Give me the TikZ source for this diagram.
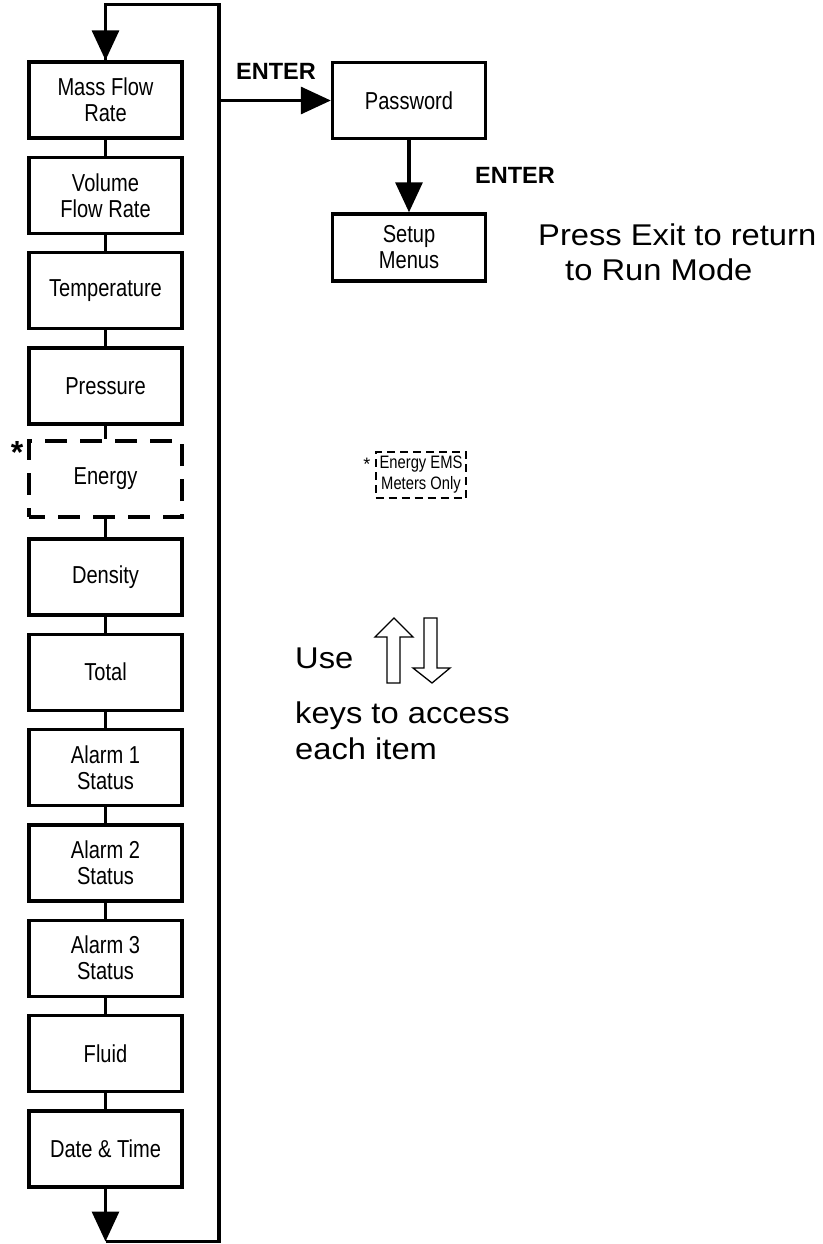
\documentclass[tikz,border=0pt]{standalone}
\usepackage{fontspec}
\setmainfont{Liberation Sans}
\newfontfamily\boxf[FakeStretch=0.82]{Liberation Sans}
\newfontfamily\widef[FakeStretch=1.09]{Liberation Sans}
\usetikzlibrary{arrows.meta}
\begin{document}
\begin{tikzpicture}[x=1pt,y=-1pt,
  menubox/.style={draw,line width=3.4pt,minimum width=153pt,minimum height=76pt,inner sep=0pt,align=center,
    font=\boxf\fontsize{24.5}{26}\selectfont},
  dashbox/.style={menubox,dash pattern=on 22pt off 13pt,dash phase=6pt},
  conn/.style={line width=3.2pt},
  bigarrow/.style={conn,-{Triangle[length=30pt,width=27pt]}},
  enterlbl/.style={anchor=base west,inner sep=0pt,font=\bfseries\fontsize{23.5}{26}\selectfont},
  note/.style={anchor=base west,inner sep=0pt,font=\widef\fontsize{30}{36}\selectfont},
  keyarrow/.style={draw,line width=1.3pt,line join=miter}]
\useasboundingbox (0,0) rectangle (822,1244);

% menu column
\node[menubox] (m1) at (105.5,100) {Mass Flow\\Rate};
\node[menubox] (m2) at (105.5,195.4) {Volume\\Flow Rate};
\node[menubox] (m3) at (105.5,290.7) {Temperature};
\node[menubox] (m4) at (105.5,386.1) {Pressure};
\node[dashbox] (m5) at (105.5,479) {Energy};
\node[menubox] (m6) at (105.5,576.8) {Density};
\node[menubox] (m7) at (105.5,672.2) {Total};
\node[menubox] (m8) at (105.5,767.5) {Alarm 1\\Status};
\node[menubox] (m9) at (105.5,862.9) {Alarm 2\\Status};
\node[menubox] (m10) at (105.5,958.2) {Alarm 3\\Status};
\node[menubox] (m11) at (105.5,1053.6) {Fluid};
\node[menubox] (m12) at (105.5,1149) {Date \& Time};

\foreach \i [evaluate=\i as \j using int(\i+1)] in {1,...,11}
  \draw[conn] (m\i) -- (m\j);

\node[anchor=north,inner sep=0pt,font=\bfseries\fontsize{32}{32}\selectfont] (ast) at (17,441) {*};

% loop
\coordinate (topL) at (105.5,4.5);
\coordinate (topR) at (219,4.5);
\coordinate (botL) at (105.5,1241.5);
\coordinate (botR) at (219,1241.5);
\coordinate (entS) at (219,100.5);
\draw[bigarrow] (m12.south) -- (botL);
\draw[conn,line join=miter] (botL) -- (botR) -- (topR) -- (topL) -- (m1.north);
\draw[bigarrow] (topL) -- (m1.north);

% password / setup
\node[menubox] (pw) at (409,100.5) {Password};
\node[menubox,minimum height=67pt] (su) at (409,247.5) {Setup\\Menus};
\draw[bigarrow] (entS) -- (pw.west);
\draw[bigarrow] (pw.south) -- (su.north);
\node[enterlbl] (e1) at (236,80) {ENTER};
\node[enterlbl] (e2) at (475,183) {ENTER};

\node[note] (px1) at (538,245) {Press Exit to return};
\node[note] (px2) at (565,280) {to Run Mode};

% legend
\node[draw,line width=2pt,dash pattern=on 8pt off 5pt,inner sep=4pt,align=center,
  font=\boxf\fontsize{18}{21}\selectfont] (leg) at (421,475) {Energy EMS\\Meters Only};
\node[anchor=north east,inner sep=0pt,font=\fontsize{18}{18}\selectfont] (last) at ([xshift=-4pt,yshift=-7pt]leg.north west) {*};

% keys note
\node[note] (use) at (295,668) {Use};
\node[note] (keys) at (295,723) {keys to access};
\node[note] (each) at (295,759) {each item};
\draw[keyarrow] (394,618) -- (413,637) -- (400,637) -- (400,683) -- (387,683) -- (387,637) -- (375,637) -- cycle;
\draw[keyarrow] (424,618) -- (437,618) -- (437,668) -- (450,668) -- (432,683) -- (413,668) -- (424,668) -- cycle;
\end{tikzpicture}
\end{document}
